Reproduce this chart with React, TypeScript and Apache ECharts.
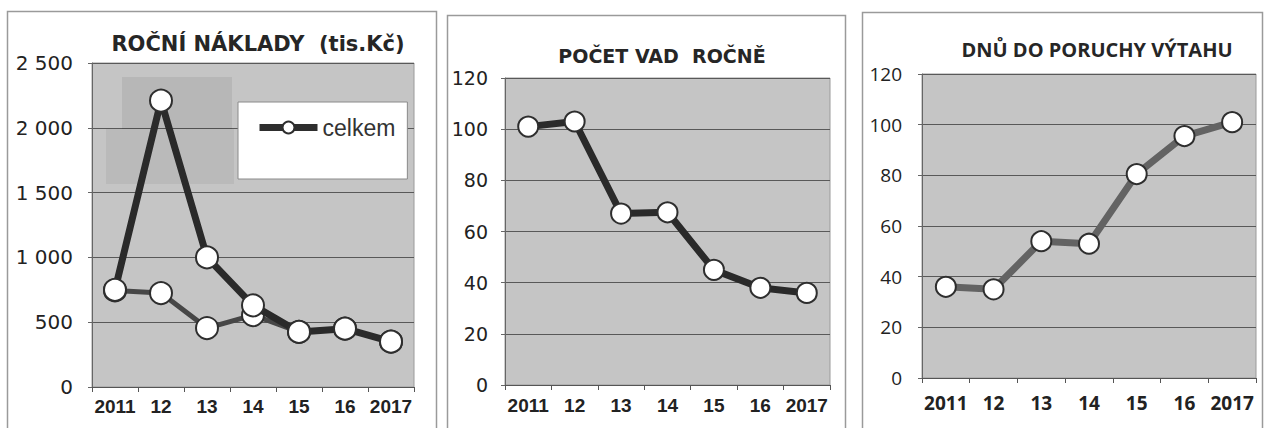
import React, { useEffect, useRef } from "react";
import * as echarts from "echarts";

const years = ["2011", "12", "13", "14", "15", "16", "2017"];
const nakladyCelkem = [750, 2210, 1000, 630, 425, 450, 350];
const nakladyDruhe = [745, 725, 455, 555, 425, 450, 350];
const pocetVad = [101, 103, 67, 67.5, 45, 38, 36];
const dnuDoPoruchy = [36, 35, 54, 53, 80.5, 95.5, 101];

const titles = ["ROČNÍ NÁKLADY  (tis.Kč)", "POČET VAD  ROČNĚ", "DNŮ DO PORUCHY VÝTAHU"];
const legendNames = ["celkem"];

const fmtThousands = (v: number) =>
  v >= 1000 ? `${Math.floor(v / 1000)} ${String(v % 1000).padStart(3, "0")}` : String(v);

export default function App() {
  const ref = useRef<HTMLDivElement>(null);
  useEffect(() => {
    if (!ref.current) return;
    const chart = echarts.init(ref.current, undefined, { renderer: "svg" });
    const plotBg = "#c5c5c5";
    const grids = [
      { left: 92, top: 63, width: 322, height: 324 },
      { left: 505, top: 78, width: 325, height: 307 },
      { left: 922, top: 74, width: 334, height: 304 },
    ];
    const xLabelFonts = [
      { fontFamily: "Liberation Sans", fontSize: 19, margin: 10 },
      { fontFamily: "Liberation Sans", fontSize: 19, margin: 11 },
      { fontFamily: "Open Sans", fontSize: 19, margin: 15 },
    ];
    const yLabelFonts = [
      { fontFamily: "DejaVu Sans", fontSize: 20, margin: 19 },
      { fontFamily: "DejaVu Sans", fontSize: 19, margin: 17 },
      { fontFamily: "Open Sans", fontSize: 19, margin: 20 },
    ];
    const yMax = [2500, 120, 120];
    const yInt = [500, 20, 20];

    const lineSeries = (
      idx: number,
      name: string,
      data: number[],
      color: string,
      width: number,
      size: number,
      z: number
    ) => ({
      type: "line",
      name,
      xAxisIndex: idx,
      yAxisIndex: idx,
      data,
      z,
      symbol: "circle",
      symbolSize: size,
      showSymbol: true,
      lineStyle: { color, width },
      itemStyle: { color: "#ffffff", borderColor: "#2e2e2e", borderWidth: 2 },
      emphasis: { disabled: true },
    });

    const option: any = {
      animation: false,
      backgroundColor: "#ffffff",
      title: [
        {
          text: titles[0],
          left: 253,
          top: 28,
          textAlign: "center",
          textStyle: { fontFamily: "DejaVu Sans", fontWeight: "bold", fontSize: 21, color: "#262626" },
        },
        {
          text: titles[1],
          left: 657,
          top: 41,
          textAlign: "center",
          textStyle: { fontFamily: "DejaVu Sans", fontWeight: "bold", fontSize: 19, color: "#262626" },
        },
        {
          text: titles[2],
          left: 1092,
          top: 34,
          textAlign: "center",
          textStyle: { fontFamily: "Open Sans", fontWeight: "bold", fontSize: 20, color: "#262626" },
        },
      ],
      legend: {
        data: legendNames,
        left: 238,
        top: 102,
        orient: "horizontal",
        padding: [14, 12, 40, 18],
        backgroundColor: "#ffffff",
        borderColor: "#8a8a8a",
        borderWidth: 1,
        itemWidth: 58,
        itemHeight: 15,
        itemGap: 4,
        lineStyle: { width: 7, color: "#2e2e2e" },
        itemStyle: { color: "#ffffff", borderColor: "#2e2e2e", borderWidth: 2 },
        textStyle: { fontFamily: "Liberation Sans", fontSize: 23, color: "#333333" },
        selectedMode: false,
      },
      grid: grids.map((g) => ({
        ...g,
        show: true,
        backgroundColor: plotBg,
        borderColor: "#9a9a9a",
        borderWidth: 1,
        containLabel: false,
      })),
      xAxis: grids.map((_, i) => ({
        type: "category",
        gridIndex: i,
        data: years,
        boundaryGap: true,
        axisLine: { show: true, lineStyle: { color: "#555555", width: 1 } },
        axisTick: { show: true, alignWithLabel: false, length: 5, lineStyle: { color: "#555555" } },
        axisLabel: {
          color: "#222222",
          fontWeight: "bold",
          fontFamily: xLabelFonts[i].fontFamily,
          fontSize: xLabelFonts[i].fontSize,
          margin: xLabelFonts[i].margin,
          interval: 0,
        },
        splitLine: { show: false },
      })),
      yAxis: grids.map((_, i) => ({
        type: "value",
        gridIndex: i,
        min: 0,
        max: yMax[i],
        interval: yInt[i],
        axisLine: { show: true, lineStyle: { color: "#666666", width: 1 } },
        axisTick: { show: true, length: 4, lineStyle: { color: "#666666" } },
        axisLabel: {
          color: "#222222",
          fontFamily: yLabelFonts[i].fontFamily,
          fontSize: yLabelFonts[i].fontSize,
          margin: yLabelFonts[i].margin,
          formatter: i === 0 ? fmtThousands : undefined,
        },
        splitLine: { show: true, lineStyle: { color: "#595959", width: 1 } },
      })),
      graphic: [
        {
          type: "rect",
          z: 100,
          silent: true,
          shape: { x: 7.5, y: 11.5, width: 429, height: 430 },
          style: { fill: "none", stroke: "#9a9a9a", lineWidth: 1.5 },
        },
        {
          type: "rect",
          z: 100,
          silent: true,
          shape: { x: 447.5, y: 15.5, width: 398, height: 430 },
          style: { fill: "none", stroke: "#9a9a9a", lineWidth: 1.5 },
        },
        {
          type: "rect",
          z: 100,
          silent: true,
          shape: { x: 862.5, y: 12.5, width: 400, height: 430 },
          style: { fill: "none", stroke: "#9a9a9a", lineWidth: 1.5 },
        },
        {
          type: "rect",
          z: 1,
          silent: true,
          shape: { x: 122, y: 77, width: 110, height: 52 },
          style: { fill: "rgba(0,0,0,0.07)" },
        },
        {
          type: "rect",
          z: 1,
          silent: true,
          shape: { x: 106, y: 129, width: 128, height: 55 },
          style: { fill: "rgba(0,0,0,0.05)" },
        },
      ],
      series: [
        lineSeries(0, "", nakladyDruhe, "#474747", 5, 22, 3),
        lineSeries(0, legendNames[0], nakladyCelkem, "#2a2a2a", 7, 22, 4),
        lineSeries(1, "vady", pocetVad, "#2a2a2a", 7, 20, 3),
        lineSeries(2, "dny", dnuDoPoruchy, "#636363", 7, 20, 3),
      ],
    };
    chart.setOption(option);
    return () => chart.dispose();
  }, []);
  return (
    <div
      ref={ref}
      style={{ position: "fixed", left: 0, top: 0, width: 1265, height: 428 }}
    />
  );
}
